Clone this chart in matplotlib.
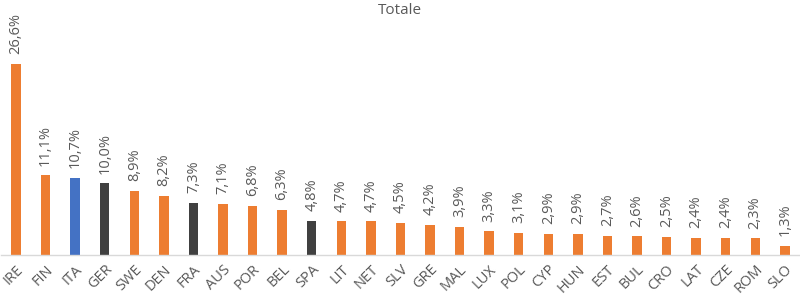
import matplotlib
matplotlib.use('Agg')
import matplotlib.pyplot as plt
import numpy as np

plt.rcParams['font.family'] = ['Open Sans', 'DejaVu Sans']

countries = ['IRE', 'FIN', 'ITA', 'GER', 'SWE', 'DEN', 'FRA', 'AUS', 'POR', 'BEL',
             'SPA', 'LIT', 'NET', 'SLV', 'GRE', 'MAL', 'LUX', 'POL', 'CYP', 'HUN',
             'EST', 'BUL', 'CRO', 'LAT', 'CZE', 'ROM', 'SLO']
values = [26.6, 11.1, 10.7, 10.0, 8.9, 8.2, 7.3, 7.1, 6.8, 6.3,
          4.8, 4.7, 4.7, 4.5, 4.2, 3.9, 3.3, 3.1, 2.9, 2.9,
          2.7, 2.6, 2.5, 2.4, 2.4, 2.3, 1.3]
highlight_blue = ['ITA']
highlight_dark = ['GER', 'FRA', 'SPA']

colors = []
for c in countries:
    if c in highlight_blue:
        colors.append('#4472C4')
    elif c in highlight_dark:
        colors.append('#404040')
    else:
        colors.append('#ED7D31')

fig = plt.figure(figsize=(8.0, 2.98), dpi=100)
ax = fig.add_axes([0.0015, 0.1443, 0.998, 0.79])

x = np.arange(len(countries))
bars = ax.bar(x, values, width=0.32, color=colors, zorder=2)

for rect, v in zip(bars, values):
    ax.annotate(f'{v:.1f}%'.replace('.', ','),
                xy=(rect.get_x() + rect.get_width() / 2, v),
                xytext=(0, 7), textcoords='offset points',
                rotation=90, ha='center', va='bottom',
                fontsize=10.5, color='#595959', annotation_clip=False)

ax.set_xlim(-0.5, len(countries) - 0.5)
ax.set_ylim(0, 32.8)
ax.set_xticks(x)
ax.set_xticklabels(countries, rotation=45, ha='right', rotation_mode='anchor',
                   fontsize=10.5, color='#595959')
ax.tick_params(axis='x', length=0, pad=5)
ax.set_yticks([])
for s in ['top', 'right', 'left']:
    ax.spines[s].set_visible(False)
ax.spines['bottom'].set_color('#D9D9D9')
ax.spines['bottom'].set_linewidth(1)

fig.text(0.5, 0.965, 'Totale', ha='center', va='center', fontsize=11, color='#595959')

fig.savefig('out.png', dpi=100)
plt.close()
